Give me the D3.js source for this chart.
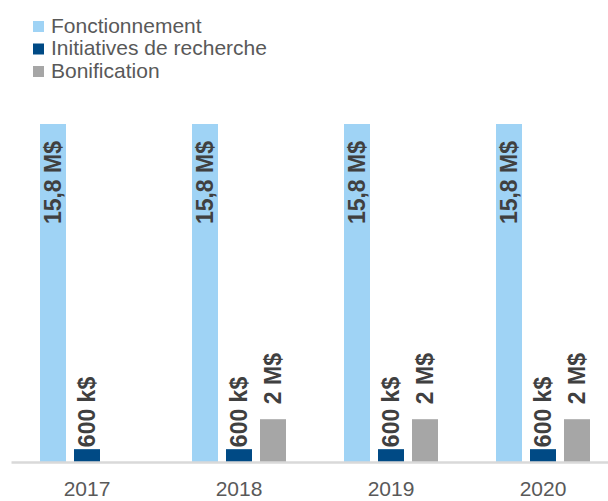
<!DOCTYPE html>
<html>
<head>
<meta charset="utf-8">
<script src="https://cdn.jsdelivr.net/npm/d3@7"></script>
<style>
  body { margin: 0; background: #fff; }
  svg { display: block; font-family: "Liberation Sans", Arial, sans-serif; }
</style>
</head>
<body>
<div id="chart"></div>
<script>
/* Daten */
var years = ["2017", "2018", "2019", "2020"];
var seriesNames = ["Fonctionnement", "Initiatives de recherche", "Bonification"];
var fonctionnement = [15.8, 15.8, 15.8, 15.8];
var initiatives = [0.6, 0.6, 0.6, 0.6];
var bonification = [null, 2, 2, 2];
var valueLabels = ["15,8 M$", "600 k$", "2 M$"];

/* Darstellung */
var colors = ["#9fd3f5", "#004a85", "#a6a6a6"];
var labelGap = [17, 2, 15]; // innen bei Serie 0, sonst ueber dem Balken
var width = 608, height = 501;

var svg = d3.select("#chart").append("svg").attr("width", width).attr("height", height);

var x0 = d3.scaleBand().domain(years).range([11, 619]).padding(0);
var x1 = d3.scaleBand().domain(d3.range(3)).range([-47, 47]).paddingInner(8 / 34).paddingOuter(0);
var y = d3.scaleLinear().domain([0, 15.8]).range([462, 124]);

var rows = [fonctionnement, initiatives, bonification];
var bars = [];
rows.forEach(function(vals, s) {
  vals.forEach(function(v, i) {
    if (v != null) bars.push({s: s, year: years[i], value: v});
  });
});

/* Balken */
svg.append("g").selectAll("rect").data(bars).enter().append("rect")
  .attr("x", function(d) { return x0(d.year) + x0.bandwidth() / 2 + x1(d.s); })
  .attr("y", function(d) { return y(d.value); })
  .attr("width", x1.bandwidth())
  .attr("height", function(d) { return y(0) - y(d.value); })
  .attr("fill", function(d) { return colors[d.s]; });

/* Beschriftungen */
svg.append("g").selectAll("text").data(bars).enter().append("text")
  .attr("transform", function(d) {
    var cx = x0(d.year) + x0.bandwidth() / 2 + x1(d.s) + x1.bandwidth() / 2;
    var yy = d.s == 0 ? y(d.value) + labelGap[d.s] : y(d.value) - labelGap[d.s];
    return "translate(" + cx + "," + yy + ") rotate(-90)";
  })
  .attr("text-anchor", function(d) { return d.s == 0 ? "end" : "start"; })
  .attr("dy", ".35em")
  .attr("font-size", "23px")
  .attr("font-weight", "bold")
  .attr("fill", "#404040")
  .text(function(d) { return valueLabels[d.s]; });

/* Achse */
var xAxis = d3.axisBottom(x0).tickSize(0).tickPadding(19);
var ax = svg.append("g").attr("transform", "translate(0," + y(0) + ")").call(xAxis);
ax.select(".domain").attr("stroke", "#d9d9d9").attr("stroke-width", 2.5);
ax.selectAll("text").attr("font-size", "21px").attr("fill", "#595959").attr("font-family", "Liberation Sans, Arial, sans-serif");

/* Legende */
var leg = svg.append("g").selectAll("g").data(seriesNames).enter().append("g")
  .attr("transform", function(d, i) { return "translate(33," + (21 + i * 22.5) + ")"; });
leg.append("rect").attr("width", 11).attr("height", 11).attr("fill", function(d, i) { return colors[i]; });
leg.append("text").attr("x", 18).attr("y", 11.5).attr("font-size", "21px").attr("fill", "#595959").text(function(d) { return d; });
</script>
</body>
</html>
